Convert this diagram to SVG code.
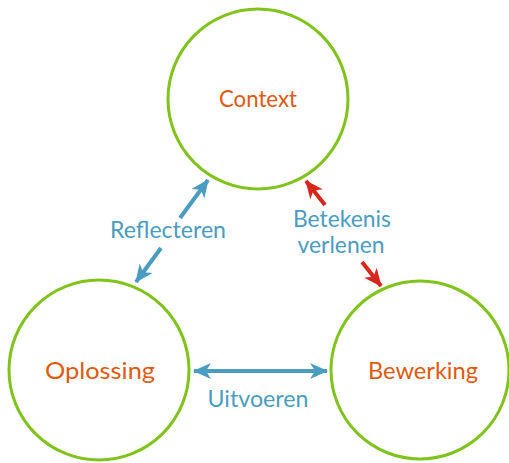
<svg xmlns="http://www.w3.org/2000/svg" width="509" height="463" viewBox="0 0 509 463">
<style>
.node circle{fill:#fff;stroke:#80c31c;stroke-width:3}
.nt{font-family:Lato,"Open Sans",sans-serif;font-size:23px;fill:#e05a10;text-anchor:middle}
.lt{font-family:Lato,"Open Sans",sans-serif;font-size:23px;fill:#4a9cc0;text-anchor:middle}
.b{stroke:#4a9cc0;stroke-width:4;fill:none}
.r{stroke:#d9261c;stroke-width:4;fill:none}
</style>
<defs>
<marker id="ab" markerUnits="userSpaceOnUse" markerWidth="20" markerHeight="20" viewBox="-1 -10 20 20" refX="17" refY="0" orient="auto-start-reverse">
<path d="M0,-8 L18,0 L0,8 L5,0 Z" fill="#4a9cc0"/>
</marker>
<marker id="ar" markerUnits="userSpaceOnUse" markerWidth="20" markerHeight="20" viewBox="-1 -10 20 20" refX="17" refY="0" orient="auto">
<path d="M0,-8 L18,0 L0,8 L5,0 Z" fill="#d9261c"/>
</marker>
</defs>
<g id="context" class="node"><circle cx="258" cy="99" r="90"/><text class="nt" x="258" y="107" textLength="78" lengthAdjust="spacingAndGlyphs">Context</text></g>
<g id="oplossing" class="node"><circle cx="99" cy="370" r="90"/><text class="nt" x="100" y="379" textLength="110" lengthAdjust="spacingAndGlyphs">Oplossing</text></g>
<g id="bewerking" class="node"><circle cx="420" cy="370" r="89"/><text class="nt" x="423" y="379" textLength="110" lengthAdjust="spacingAndGlyphs">Bewerking</text></g>
<g id="connectors">
<line class="b" x1="180" y1="218" x2="208" y2="180" marker-end="url(#ab)"/>
<line class="b" x1="161" y1="248" x2="136" y2="282" marker-end="url(#ab)"/>
<line class="r" x1="325" y1="205" x2="306" y2="181" marker-end="url(#ar)"/>
<line class="r" x1="362" y1="262" x2="381" y2="286" marker-end="url(#ar)"/>
<line class="b" x1="194" y1="371" x2="327" y2="371" marker-start="url(#ab)" marker-end="url(#ab)"/>
</g>
<g id="labels">
<text class="lt" x="168" y="238" textLength="116" lengthAdjust="spacingAndGlyphs">Reflecteren</text>
<text class="lt" x="342" y="227" textLength="98" lengthAdjust="spacingAndGlyphs">Betekenis</text>
<text class="lt" x="341" y="253" textLength="87" lengthAdjust="spacingAndGlyphs">verlenen</text>
<text class="lt" x="258" y="407" textLength="101" lengthAdjust="spacingAndGlyphs">Uitvoeren</text>
</g>
</svg>
